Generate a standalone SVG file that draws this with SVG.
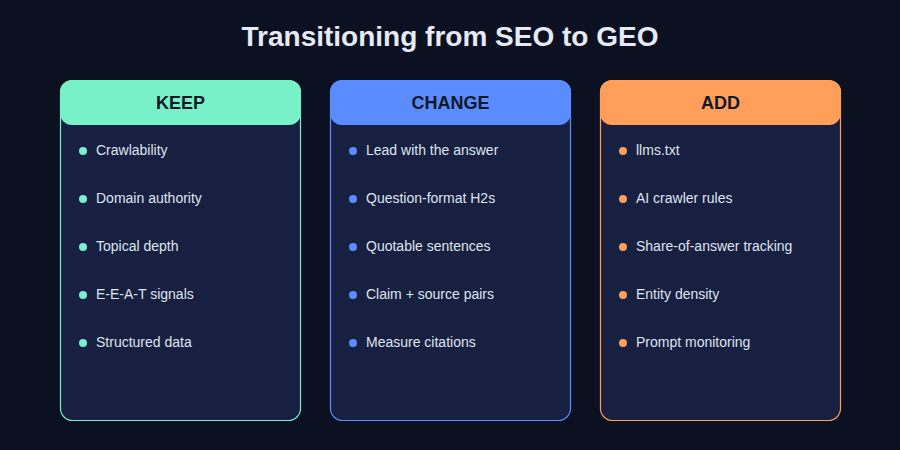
<svg xmlns="http://www.w3.org/2000/svg" width="900" height="450" viewBox="0 0 900 450">
<style>
.title{font-family:"Liberation Sans",Arial,sans-serif;font-weight:bold;font-size:28px;fill:#e6eaf5;text-anchor:middle}
.card{fill:#172040;stroke-width:1.2}
.hdr-t{font-family:"Liberation Sans",Arial,sans-serif;font-weight:bold;font-size:18px;fill:#111827;text-anchor:middle}
.item{font-family:"Liberation Sans",Arial,sans-serif;font-size:14px;fill:#dfe4ee}
</style>
<rect width="900" height="450" fill="#0c1122"/>
<text class="title" x="450" y="46">Transitioning from SEO to GEO</text>
<g id="keep">
<rect class="card" x="60.5" y="80.5" width="240" height="340" rx="12" stroke="#78f0c8"/>
<rect x="60" y="80" width="241" height="45" rx="12" fill="#78f0c8"/>
<text class="hdr-t" x="180.5" y="109">KEEP</text>
<g fill="#78f0c8"><circle cx="83" cy="151" r="4"/><circle cx="83" cy="199" r="4"/><circle cx="83" cy="247" r="4"/><circle cx="83" cy="295" r="4"/><circle cx="83" cy="343" r="4"/></g>
<text class="item" x="96" y="155">Crawlability</text>
<text class="item" x="96" y="203">Domain authority</text>
<text class="item" x="96" y="251">Topical depth</text>
<text class="item" x="96" y="299">E-E-A-T signals</text>
<text class="item" x="96" y="347">Structured data</text>
</g>
<g id="change">
<rect class="card" x="330.5" y="80.5" width="240" height="340" rx="12" stroke="#5b8cff"/>
<rect x="330" y="80" width="241" height="45" rx="12" fill="#5b8cff"/>
<text class="hdr-t" x="450.5" y="109">CHANGE</text>
<g fill="#5b8cff"><circle cx="353" cy="151" r="4"/><circle cx="353" cy="199" r="4"/><circle cx="353" cy="247" r="4"/><circle cx="353" cy="295" r="4"/><circle cx="353" cy="343" r="4"/></g>
<text class="item" x="366" y="155">Lead with the answer</text>
<text class="item" x="366" y="203">Question-format H2s</text>
<text class="item" x="366" y="251">Quotable sentences</text>
<text class="item" x="366" y="299">Claim + source pairs</text>
<text class="item" x="366" y="347">Measure citations</text>
</g>
<g id="add">
<rect class="card" x="600.5" y="80.5" width="240" height="340" rx="12" stroke="#ff9f5a"/>
<rect x="600" y="80" width="241" height="45" rx="12" fill="#ff9f5a"/>
<text class="hdr-t" x="720.5" y="109">ADD</text>
<g fill="#ff9f5a"><circle cx="623" cy="151" r="4"/><circle cx="623" cy="199" r="4"/><circle cx="623" cy="247" r="4"/><circle cx="623" cy="295" r="4"/><circle cx="623" cy="343" r="4"/></g>
<text class="item" x="636" y="155">llms.txt</text>
<text class="item" x="636" y="203">AI crawler rules</text>
<text class="item" x="636" y="251">Share-of-answer tracking</text>
<text class="item" x="636" y="299">Entity density</text>
<text class="item" x="636" y="347">Prompt monitoring</text>
</g>
<g id="connectors"/>
</svg>
